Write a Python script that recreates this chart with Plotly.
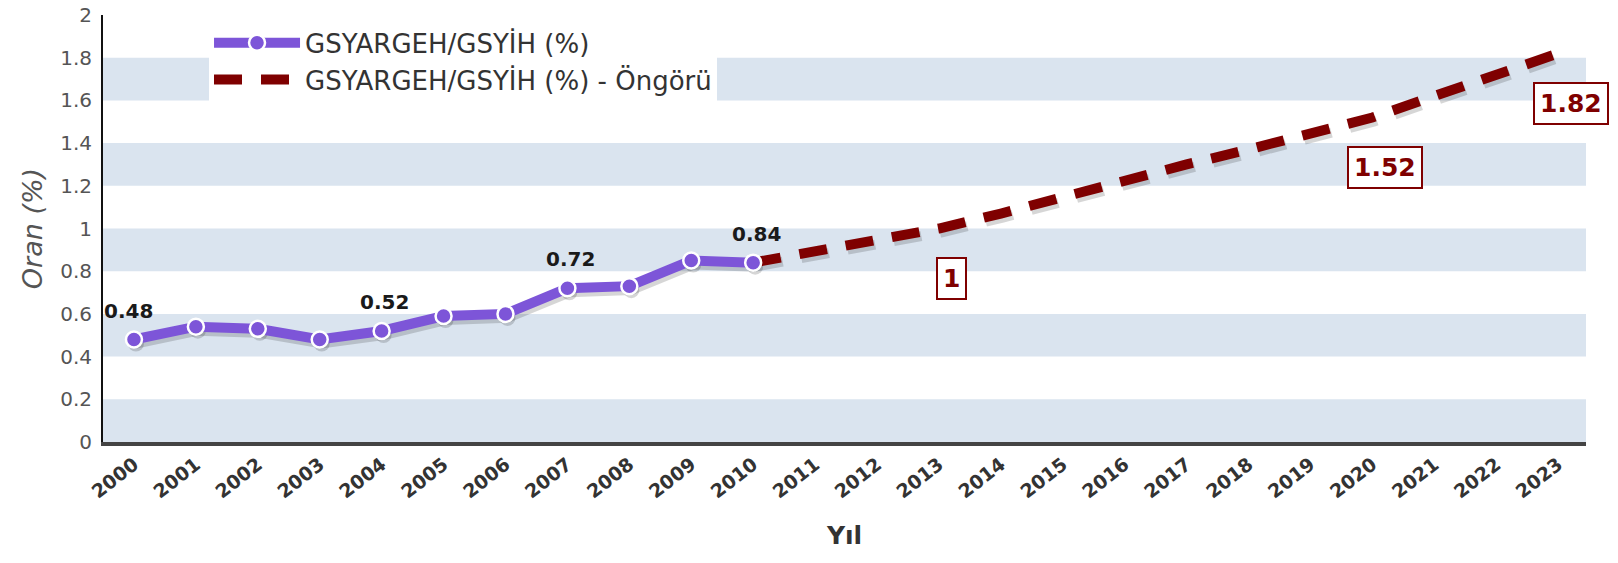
import plotly.graph_objects as go

# --- data -------------------------------------------------------------------
actual_years = [2000, 2001, 2002, 2003, 2004, 2005, 2006, 2007, 2008, 2009, 2010]
actual_ratio = [0.48, 0.54, 0.53, 0.48, 0.52, 0.59, 0.60, 0.72, 0.73, 0.85, 0.84]

forecast_years = [2010, 2011, 2012, 2013, 2014, 2015, 2016, 2017, 2018, 2019,
                  2020, 2021, 2022, 2023]
forecast_ratio = [0.84, 0.89, 0.95, 1.00, 1.07, 1.15, 1.22, 1.30, 1.37, 1.45,
                  1.52, 1.62, 1.72, 1.82]

actual_labelled = [2000, 2004, 2007, 2010]
forecast_labelled = [2013, 2020, 2023]

year_ticks = list(range(2000, 2024))
y_ticks = [0, 0.2, 0.4, 0.6, 0.8, 1, 1.2, 1.4, 1.6, 1.8, 2]

name_actual = "GSYARGEH/GSYİH (%)"
name_forecast = "GSYARGEH/GSYİH (%) - Öngörü"

# --- styling ----------------------------------------------------------------
PURPLE = "#7d55d8"
DARKRED = "#7f0000"
BAND = "#dae4ef"
SHADOW = "rgba(0,0,0,0.16)"
FONT = "DejaVu Sans"
DASH = "28px,19px"

W, H = 1618, 563
M_L, M_R, M_T, M_B = 103, 30, 15, 117
plot_w = W - M_L - M_R
plot_h = H - M_T - M_B
sx = 2 / plot_w   # drop-shadow offset, right
sy = 4 / plot_h   # drop-shadow offset, down

x_range = [1999.5, 2023.45]
y_range = [0, 2]

fig = go.Figure()

# drop shadows (drawn on an offset, hidden pair of axes underneath)
fig.add_trace(go.Scatter(
    x=actual_years, y=actual_ratio, mode="lines+markers",
    line=dict(color=SHADOW, width=10), marker=dict(size=16, color=SHADOW),
    xaxis="x", yaxis="y", showlegend=False, hoverinfo="skip"))
fig.add_trace(go.Scatter(
    x=forecast_years, y=forecast_ratio, mode="lines",
    line=dict(color=SHADOW, width=10, dash=DASH),
    xaxis="x", yaxis="y", showlegend=False, hoverinfo="skip"))

# main series
fig.add_trace(go.Scatter(
    x=forecast_years, y=forecast_ratio, mode="lines", name=name_forecast,
    line=dict(color=DARKRED, width=10, dash=DASH),
    xaxis="x2", yaxis="y2", legendrank=2))
fig.add_trace(go.Scatter(
    x=actual_years, y=actual_ratio, mode="lines+markers", name=name_actual,
    line=dict(color=PURPLE, width=10),
    marker=dict(size=16, color=PURPLE, line=dict(color="white", width=2.5)),
    xaxis="x2", yaxis="y2", legendrank=1))

# alternating horizontal bands
shapes = []
for lo, hi in zip(y_ticks[0::2], y_ticks[1::2]):
    shapes.append(dict(type="rect", xref="paper", yref="y2", x0=0, x1=1 - sx,
                       y0=lo, y1=hi, fillcolor=BAND, line=dict(width=0),
                       layer="below"))

# value labels
annotations = []
for yr, v in zip(actual_years, actual_ratio):
    if yr in actual_labelled:
        annotations.append(dict(
            x=yr, y=v, xref="x2", yref="y2", text=f"{v:g}", showarrow=False,
            yshift=29, xshift=-5 if yr == actual_years[0] else 3,
            font=dict(family=FONT, size=20, color="#1a1a1a", weight="bold")))
for yr, v in zip(forecast_years, forecast_ratio):
    if yr in forecast_labelled:
        annotations.append(dict(
            x=yr, y=v, xref="x2", yref="y2", text=f"{v:g}", showarrow=False,
            yshift=-50, xshift=13, bgcolor="white", bordercolor=DARKRED,
            borderwidth=2, borderpad=5,
            font=dict(family=FONT, size=25, color=DARKRED, weight="bold")))

fig.update_layout(
    width=W, height=H,
    margin=dict(l=M_L, r=M_R, t=M_T, b=M_B, autoexpand=False),
    paper_bgcolor="white", plot_bgcolor="rgba(0,0,0,0)",
    font=dict(family=FONT, color="#444"),
    shapes=shapes, annotations=annotations,
    showlegend=True,
    legend=dict(
        x=0.0714, y=0.99, xanchor="left", yanchor="top",
        bgcolor="white", borderwidth=0, itemwidth=86,
        font=dict(family=FONT, size=26, color="#333"),
        traceorder="normal"),
    xaxis=dict(domain=[sx, 1], range=x_range, visible=False, anchor="y"),
    yaxis=dict(domain=[0, 1 - sy], range=y_range, visible=False, anchor="x"),
    xaxis2=dict(
        domain=[0, 1 - sx], range=x_range, anchor="y2",
        tickmode="array", tickvals=year_ticks, ticktext=[str(t) for t in year_ticks],
        tickangle=-38, ticks="", showgrid=False, zeroline=False,
        showline=True, linecolor="#444", linewidth=4,
        tickfont=dict(family=FONT, size=19, color="#333", weight="bold"),
        title=dict(text="Yıl", standoff=26,
                   font=dict(family=FONT, size=25, color="#333", weight="bold"))),
    yaxis2=dict(
        domain=[sy, 1], range=y_range, anchor="x2",
        tickmode="array", tickvals=y_ticks, ticks="", showgrid=False,
        zeroline=False, showline=True, linecolor="#111", linewidth=2,
        ticklabelstandoff=5,
        tickfont=dict(family=FONT, size=20, color="#555"),
        title=dict(text="<i>Oran (%)</i>", standoff=10,
                   font=dict(family=FONT, size=27, color="#555"))),
)

fig.write_html("out.html", config={"displayModeBar": False})
